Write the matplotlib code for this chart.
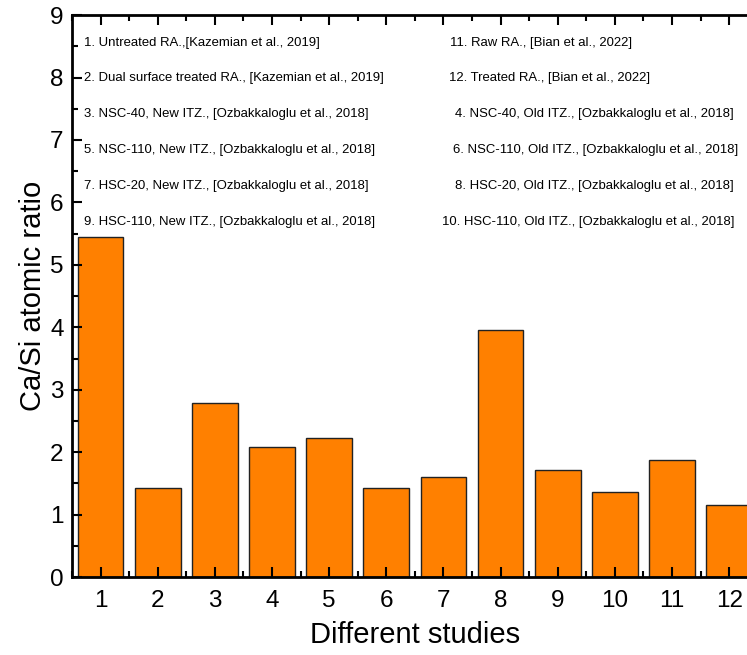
import numpy as np
import matplotlib.pyplot as plt
from matplotlib.ticker import MultipleLocator

plt.rcParams['font.family'] = ['Liberation Sans', 'DejaVu Sans']

# 数据
studies = np.arange(1, 13)
ca_si = [5.44, 1.42, 2.79, 2.09, 2.22, 1.42, 1.61, 3.96, 1.72, 1.36, 1.88, 1.15]

# 注释文字
notes_left = [
    '1. Untreated RA.,[Kazemian et al., 2019]',
    '2. Dual surface treated RA., [Kazemian et al., 2019]',
    '3. NSC-40, New ITZ., [Ozbakkaloglu et al., 2018]',
    '5. NSC-110, New ITZ., [Ozbakkaloglu et al., 2018]',
    '7. HSC-20, New ITZ., [Ozbakkaloglu et al., 2018]',
    '9. HSC-110, New ITZ., [Ozbakkaloglu et al., 2018]',
]
notes_right = [
    '11. Raw RA., [Bian et al., 2022]',
    '12. Treated RA., [Bian et al., 2022]',
    '4. NSC-40, Old ITZ., [Ozbakkaloglu et al., 2018]',
    '6. NSC-110, Old ITZ., [Ozbakkaloglu et al., 2018]',
    '8. HSC-20, Old ITZ., [Ozbakkaloglu et al., 2018]',
    '10. HSC-110, Old ITZ., [Ozbakkaloglu et al., 2018]',
]
note_y = [8.56, 8.0, 7.42, 6.84, 6.27, 5.69]
right_x = [7.12, 7.10, 7.20, 7.16, 7.20, 6.98]

fig = plt.figure(figsize=(7.47, 6.55), dpi=100)
ax = fig.add_axes([0.0964, 0.119, 0.918, 0.858])

ax.bar(studies, ca_si, width=0.8, color='#FF8000', edgecolor='#222222', linewidth=1.0)

ax.set_xlim(0.5, 12.5)
ax.set_ylim(0, 9)
ax.xaxis.set_major_locator(MultipleLocator(1))
ax.xaxis.set_minor_locator(MultipleLocator(0.5))
ax.yaxis.set_major_locator(MultipleLocator(1))
ax.yaxis.set_minor_locator(MultipleLocator(0.5))

ax.tick_params(which='both', direction='in', top=True, right=True, width=1.5)
ax.tick_params(which='major', length=7, labelsize=17.5)
ax.tick_params(axis='x', which='major', pad=9)
ax.tick_params(axis='y', which='major', pad=6)
ax.tick_params(which='minor', length=4)
for s in ax.spines.values():
    s.set_linewidth(2)

for y, t in zip(note_y, notes_left):
    ax.text(1.0 + (83 - 100) / 57.2, y, t, fontsize=9.45, va='center', ha='left')
for x, y, t in zip(right_x, note_y, notes_right):
    ax.text(x, y, t, fontsize=9.45, va='center', ha='left')

ax.set_ylabel('Ca/Si atomic ratio', fontsize=21, labelpad=2)
ax.set_xlabel('Different studies', fontsize=21, labelpad=7)

fig.savefig('out.png', dpi=100)
